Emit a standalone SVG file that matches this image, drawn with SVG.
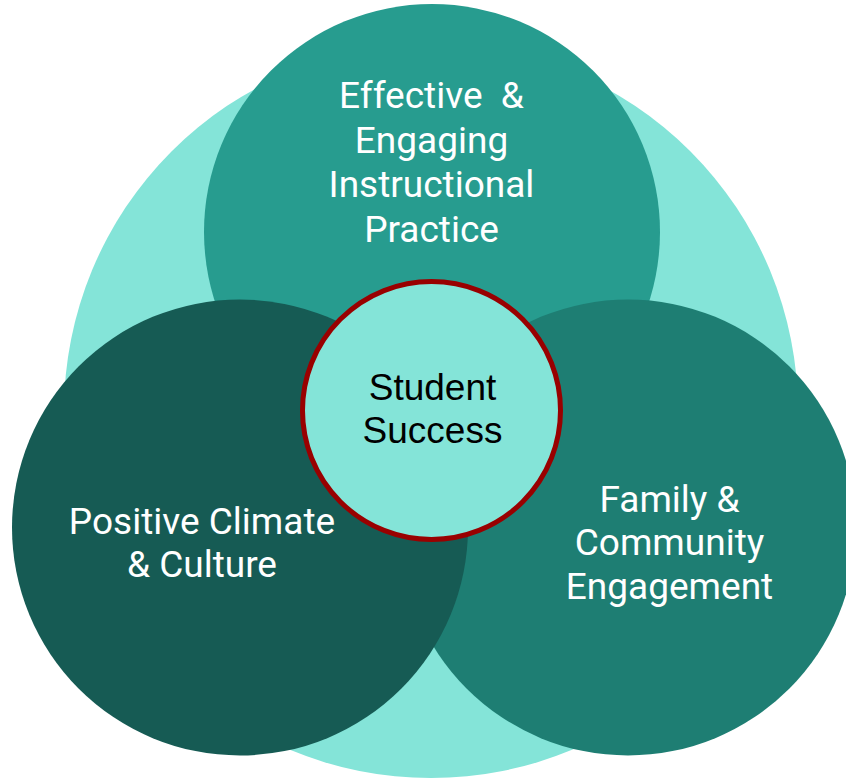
<svg xmlns="http://www.w3.org/2000/svg" width="846" height="778" viewBox="0 0 846 778">
<style>
.lbl{font-family:Roboto,"Liberation Sans",sans-serif;font-size:37px;fill:#ffffff;text-anchor:middle;white-space:pre}
.ctr{font-family:"Liberation Sans",Arial,sans-serif;font-size:37px;fill:#000000;text-anchor:middle}
</style>
<rect width="846" height="778" fill="#ffffff"/>
<g id="background">
<circle cx="431" cy="411" r="367" fill="#84E4D8"/>
</g>
<g id="instructional-practice">
<circle cx="432" cy="232" r="228" fill="#279C8F"/>
<text class="lbl" x="431.5" y="108" xml:space="preserve">Effective  &amp;</text>
<text class="lbl" x="431.5" y="152.5">Engaging</text>
<text class="lbl" x="431.5" y="197">Instructional</text>
<text class="lbl" x="431.5" y="241.5">Practice</text>
</g>
<g id="family-community">
<circle cx="628" cy="527.5" r="228" fill="#1E7E73"/>
<text class="lbl" x="669.5" y="511.5">Family &amp;</text>
<text class="lbl" x="669.5" y="555">Community</text>
<text class="lbl" x="669.5" y="598.5">Engagement</text>
</g>
<g id="climate-culture">
<circle cx="240" cy="527.5" r="228" fill="#165B54"/>
<text class="lbl" x="202" y="533.5">Positive Climate</text>
<text class="lbl" x="202" y="577">&amp; Culture</text>
</g>
<g id="connectors"></g>
<g id="student-success">
<circle cx="431.5" cy="410.5" r="129" fill="#84E4D8" stroke="#990000" stroke-width="5"/>
<text class="ctr" x="432.5" y="400">Student</text>
<text class="ctr" x="432.5" y="443">Success</text>
</g>
</svg>
